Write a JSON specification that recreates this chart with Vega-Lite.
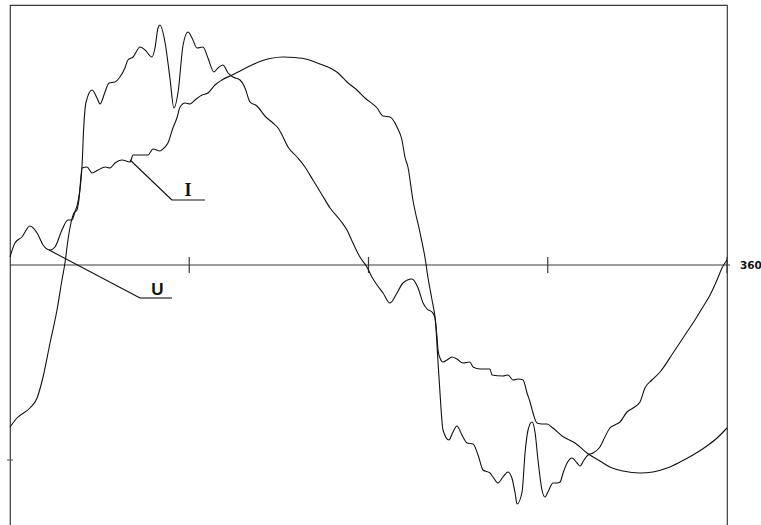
{
  "$schema": "https://vega.github.io/schema/vega-lite/v6.json",
  "width": 717,
  "height": 522,
  "autosize": {"type": "none"},
  "padding": {"left": 10, "top": 5, "right": 34, "bottom": 0},
  "background": "white",
  "config": {"view": {"stroke": "#3a3a3a", "strokeWidth": 1.2}},
  "datasets": {
    "curves": [
      {"series": "U", "x": 0, "y": 8}, {"series": "U", "x": 2.5, "y": 22}, {"series": "U", "x": 6.0, "y": 28}, {"series": "U", "x": 10.0, "y": 39}, {"series": "U", "x": 13.6, "y": 32}, {"series": "U", "x": 16.6, "y": 20}, {"series": "U", "x": 20.1, "y": 15}, {"series": "U", "x": 22.6, "y": 18}, {"series": "U", "x": 26.1, "y": 35}, {"series": "U", "x": 29.1, "y": 45}, {"series": "U", "x": 31.1, "y": 45}, {"series": "U", "x": 32.6, "y": 53}, {"series": "U", "x": 34.1, "y": 63}, {"series": "U", "x": 36.2, "y": 100}, {"series": "U", "x": 36.9, "y": 133}, {"series": "U", "x": 38.2, "y": 163}, {"series": "U", "x": 41.2, "y": 175}, {"series": "U", "x": 43.7, "y": 167}, {"series": "U", "x": 45.2, "y": 161}, {"series": "U", "x": 47.7, "y": 173}, {"series": "U", "x": 49.7, "y": 182}, {"series": "U", "x": 52.7, "y": 183}, {"series": "U", "x": 55.2, "y": 188}, {"series": "U", "x": 57.7, "y": 197}, {"series": "U", "x": 59.2, "y": 205}, {"series": "U", "x": 61.8, "y": 208}, {"series": "U", "x": 65.3, "y": 218}, {"series": "U", "x": 67.8, "y": 215}, {"series": "U", "x": 71.3, "y": 208}, {"series": "U", "x": 72.8, "y": 217}, {"series": "U", "x": 74.3, "y": 237}, {"series": "U", "x": 75.3, "y": 240}, {"series": "U", "x": 77.8, "y": 223}, {"series": "U", "x": 80.3, "y": 187}, {"series": "U", "x": 82.3, "y": 157}, {"series": "U", "x": 84.4, "y": 173}, {"series": "U", "x": 86.9, "y": 220}, {"series": "U", "x": 89.4, "y": 233}, {"series": "U", "x": 91.4, "y": 227}, {"series": "U", "x": 93.9, "y": 217}, {"series": "U", "x": 96.9, "y": 218}, {"series": "U", "x": 99.4, "y": 207}, {"series": "U", "x": 102.4, "y": 193}, {"series": "U", "x": 104.4, "y": 197}, {"series": "U", "x": 106.9, "y": 200}, {"series": "U", "x": 109.5, "y": 192}, {"series": "U", "x": 112.0, "y": 188}, {"series": "U", "x": 115.5, "y": 185}, {"series": "U", "x": 118.0, "y": 177}, {"series": "U", "x": 120.5, "y": 163}, {"series": "U", "x": 124.0, "y": 159}, {"series": "U", "x": 128.0, "y": 149}, {"series": "U", "x": 132.0, "y": 142}, {"series": "U", "x": 134.6, "y": 137}, {"series": "U", "x": 137.1, "y": 128}, {"series": "U", "x": 139.6, "y": 118}, {"series": "U", "x": 144.1, "y": 108}, {"series": "U", "x": 148.1, "y": 98}, {"series": "U", "x": 152.1, "y": 85}, {"series": "U", "x": 156.7, "y": 70}, {"series": "U", "x": 160.7, "y": 57}, {"series": "U", "x": 165.7, "y": 45}, {"series": "U", "x": 169.2, "y": 35}, {"series": "U", "x": 172.2, "y": 22}, {"series": "U", "x": 175.7, "y": 8}, {"series": "U", "x": 179.2, "y": -2}, {"series": "U", "x": 181.7, "y": -12}, {"series": "U", "x": 184.3, "y": -20}, {"series": "U", "x": 187.3, "y": -28}, {"series": "U", "x": 190.8, "y": -38}, {"series": "U", "x": 194.3, "y": -28}, {"series": "U", "x": 197.3, "y": -18}, {"series": "U", "x": 201.8, "y": -14}, {"series": "U", "x": 204.9, "y": -23}, {"series": "U", "x": 207.4, "y": -38}, {"series": "U", "x": 209.4, "y": -44}, {"series": "U", "x": 211.9, "y": -47}, {"series": "U", "x": 213.4, "y": -53}, {"series": "U", "x": 214.9, "y": -97}, {"series": "U", "x": 215.9, "y": -128}, {"series": "U", "x": 217.4, "y": -165}, {"series": "U", "x": 220.4, "y": -175}, {"series": "U", "x": 222.4, "y": -167}, {"series": "U", "x": 224.4, "y": -161}, {"series": "U", "x": 226.9, "y": -170}, {"series": "U", "x": 229.5, "y": -178}, {"series": "U", "x": 232.5, "y": -179}, {"series": "U", "x": 235.0, "y": -190}, {"series": "U", "x": 237.5, "y": -205}, {"series": "U", "x": 241.0, "y": -208}, {"series": "U", "x": 242.5, "y": -212}, {"series": "U", "x": 245.0, "y": -218}, {"series": "U", "x": 247.5, "y": -212}, {"series": "U", "x": 250.0, "y": -207}, {"series": "U", "x": 252.0, "y": -213}, {"series": "U", "x": 253.6, "y": -228}, {"series": "U", "x": 254.6, "y": -239}, {"series": "U", "x": 257.1, "y": -227}, {"series": "U", "x": 258.6, "y": -188}, {"series": "U", "x": 260.1, "y": -165}, {"series": "U", "x": 262.1, "y": -157}, {"series": "U", "x": 263.6, "y": -167}, {"series": "U", "x": 265.1, "y": -195}, {"series": "U", "x": 267.1, "y": -225}, {"series": "U", "x": 268.6, "y": -232}, {"series": "U", "x": 270.1, "y": -227}, {"series": "U", "x": 272.6, "y": -218}, {"series": "U", "x": 274.6, "y": -218}, {"series": "U", "x": 276.2, "y": -217}, {"series": "U", "x": 277.7, "y": -208}, {"series": "U", "x": 279.7, "y": -198}, {"series": "U", "x": 282.2, "y": -193}, {"series": "U", "x": 284.7, "y": -198}, {"series": "U", "x": 286.2, "y": -201}, {"series": "U", "x": 288.2, "y": -195}, {"series": "U", "x": 290.2, "y": -190}, {"series": "U", "x": 292.7, "y": -188}, {"series": "U", "x": 296.2, "y": -182}, {"series": "U", "x": 298.7, "y": -172}, {"series": "U", "x": 301.2, "y": -163}, {"series": "U", "x": 303.7, "y": -160}, {"series": "U", "x": 306.3, "y": -157}, {"series": "U", "x": 309.8, "y": -147}, {"series": "U", "x": 312.8, "y": -143}, {"series": "U", "x": 316.3, "y": -137}, {"series": "U", "x": 318.8, "y": -123}, {"series": "U", "x": 322.3, "y": -115}, {"series": "U", "x": 326.4, "y": -107}, {"series": "U", "x": 332.9, "y": -88}, {"series": "U", "x": 338.9, "y": -70}, {"series": "U", "x": 343.9, "y": -55}, {"series": "U", "x": 347.9, "y": -42}, {"series": "U", "x": 351.5, "y": -30}, {"series": "U", "x": 355.0, "y": -15}, {"series": "U", "x": 357.5, "y": -3}, {"series": "U", "x": 360, "y": 5},
      {"series": "I", "x": 0, "y": -162}, {"series": "I", "x": 3.5, "y": -153}, {"series": "I", "x": 10.0, "y": -143}, {"series": "I", "x": 13.6, "y": -133}, {"series": "I", "x": 16.6, "y": -112}, {"series": "I", "x": 20.1, "y": -78}, {"series": "I", "x": 23.6, "y": -45}, {"series": "I", "x": 26.1, "y": -15}, {"series": "I", "x": 27.6, "y": 2}, {"series": "I", "x": 29.1, "y": 25}, {"series": "I", "x": 30.6, "y": 42}, {"series": "I", "x": 32.1, "y": 52}, {"series": "I", "x": 33.6, "y": 55}, {"series": "I", "x": 34.6, "y": 65}, {"series": "I", "x": 36.2, "y": 97}, {"series": "I", "x": 38.7, "y": 98}, {"series": "I", "x": 41.2, "y": 92}, {"series": "I", "x": 44.2, "y": 95}, {"series": "I", "x": 47.7, "y": 98}, {"series": "I", "x": 50.2, "y": 97}, {"series": "I", "x": 52.7, "y": 102}, {"series": "I", "x": 56.2, "y": 105}, {"series": "I", "x": 60.3, "y": 103}, {"series": "I", "x": 61.8, "y": 110}, {"series": "I", "x": 65.3, "y": 110}, {"series": "I", "x": 69.3, "y": 110}, {"series": "I", "x": 71.8, "y": 116}, {"series": "I", "x": 75.3, "y": 114}, {"series": "I", "x": 77.3, "y": 117}, {"series": "I", "x": 79.3, "y": 122}, {"series": "I", "x": 81.8, "y": 137}, {"series": "I", "x": 83.8, "y": 147}, {"series": "I", "x": 85.4, "y": 158}, {"series": "I", "x": 87.9, "y": 162}, {"series": "I", "x": 90.4, "y": 161}, {"series": "I", "x": 92.9, "y": 165}, {"series": "I", "x": 96.4, "y": 170}, {"series": "I", "x": 99.4, "y": 172}, {"series": "I", "x": 102.9, "y": 180}, {"series": "I", "x": 106.4, "y": 185}, {"series": "I", "x": 111.5, "y": 190}, {"series": "I", "x": 116.5, "y": 195}, {"series": "I", "x": 121.5, "y": 200}, {"series": "I", "x": 125.5, "y": 203.5}, {"series": "I", "x": 130.5, "y": 206.5}, {"series": "I", "x": 137.1, "y": 208}, {"series": "I", "x": 143.0, "y": 207.5}, {"series": "I", "x": 149.6, "y": 205.5}, {"series": "I", "x": 155.6, "y": 201}, {"series": "I", "x": 161.7, "y": 196}, {"series": "I", "x": 164.7, "y": 192}, {"series": "I", "x": 169.2, "y": 183}, {"series": "I", "x": 174.2, "y": 175}, {"series": "I", "x": 178.2, "y": 167}, {"series": "I", "x": 184.3, "y": 157}, {"series": "I", "x": 187.3, "y": 149}, {"series": "I", "x": 190.8, "y": 148}, {"series": "I", "x": 194.3, "y": 138}, {"series": "I", "x": 196.8, "y": 125}, {"series": "I", "x": 198.3, "y": 108}, {"series": "I", "x": 199.8, "y": 98}, {"series": "I", "x": 202.3, "y": 65}, {"series": "I", "x": 205.9, "y": 32}, {"series": "I", "x": 208.4, "y": 7}, {"series": "I", "x": 209.9, "y": -13}, {"series": "I", "x": 211.9, "y": -35}, {"series": "I", "x": 213.4, "y": -52}, {"series": "I", "x": 214.4, "y": -72}, {"series": "I", "x": 214.9, "y": -85}, {"series": "I", "x": 215.9, "y": -93}, {"series": "I", "x": 217.4, "y": -97}, {"series": "I", "x": 219.4, "y": -95}, {"series": "I", "x": 221.9, "y": -92}, {"series": "I", "x": 224.4, "y": -94}, {"series": "I", "x": 227.4, "y": -98}, {"series": "I", "x": 230.9, "y": -97}, {"series": "I", "x": 232.5, "y": -102}, {"series": "I", "x": 236.0, "y": -104}, {"series": "I", "x": 241.0, "y": -104}, {"series": "I", "x": 242.0, "y": -110}, {"series": "I", "x": 247.5, "y": -111}, {"series": "I", "x": 250.0, "y": -110}, {"series": "I", "x": 252.6, "y": -115}, {"series": "I", "x": 255.1, "y": -114}, {"series": "I", "x": 257.6, "y": -115}, {"series": "I", "x": 259.6, "y": -128}, {"series": "I", "x": 261.1, "y": -137}, {"series": "I", "x": 262.6, "y": -148}, {"series": "I", "x": 264.6, "y": -158}, {"series": "I", "x": 267.1, "y": -159}, {"series": "I", "x": 269.6, "y": -159}, {"series": "I", "x": 272.6, "y": -163}, {"series": "I", "x": 277.2, "y": -171}, {"series": "I", "x": 283.7, "y": -178}, {"series": "I", "x": 289.7, "y": -188}, {"series": "I", "x": 296.2, "y": -196}, {"series": "I", "x": 301.2, "y": -202}, {"series": "I", "x": 307.8, "y": -206}, {"series": "I", "x": 316.3, "y": -208}, {"series": "I", "x": 322.8, "y": -207}, {"series": "I", "x": 329.9, "y": -203}, {"series": "I", "x": 336.4, "y": -197}, {"series": "I", "x": 342.9, "y": -190}, {"series": "I", "x": 349.9, "y": -181}, {"series": "I", "x": 355.0, "y": -173}, {"series": "I", "x": 360, "y": -163}
    ],
    "ticks": [{"x": 90}, {"x": 180}, {"x": 270}, {"x": 360}],
    "leaders": [
      {"series": "I", "x": 60.3, "y": 105, "x2": 81.3, "y2": 65},
      {"series": "I", "x": 81.3, "y": 65, "x2": 97.9, "y2": 65},
      {"series": "U", "x": 19.6, "y": 15, "x2": 65.3, "y2": -33},
      {"series": "U", "x": 65.3, "y": -33, "x2": 81.3, "y2": -33}
    ],
    "labels": [
      {"label": "I", "x": 89.4, "y": 69},
      {"label": "U", "x": 74.0, "y": -30}
    ],
    "axisLabel": [{"label": "360", "x": 360, "y": 0}]
  },
  "layer": [
    {
      "data": {"values": [{}]},
      "mark": {"type": "rule", "color": "#3a3a3a", "strokeWidth": 1.2},
      "encoding": {
        "x": {"datum": 0, "type": "quantitative", "scale": {"domain": [0, 360], "nice": false, "zero": false}, "axis": null},
        "x2": {"datum": 361.5},
        "y": {"datum": 0, "type": "quantitative", "scale": {"domain": [-262, 260], "nice": false, "zero": false}, "axis": null}
      }
    },
    {
      "data": {"values": [{}]},
      "mark": {"type": "rule", "color": "#555", "strokeWidth": 1},
      "encoding": {
        "x": {"datum": -1.5, "type": "quantitative"},
        "x2": {"datum": 1.5},
        "y": {"datum": -195, "type": "quantitative"}
      }
    },
    {
      "data": {"name": "ticks"},
      "mark": {"type": "rule", "color": "#3a3a3a", "strokeWidth": 1.2},
      "encoding": {
        "x": {"field": "x", "type": "quantitative"},
        "y": {"datum": 8, "type": "quantitative"},
        "y2": {"datum": -8}
      }
    },
    {
      "data": {"name": "curves"},
      "mark": {"type": "line", "color": "#111", "strokeWidth": 1.1, "interpolate": "monotone"},
      "encoding": {
        "x": {"field": "x", "type": "quantitative"},
        "y": {"field": "y", "type": "quantitative"},
        "detail": {"field": "series"}
      }
    },
    {
      "data": {"name": "leaders"},
      "mark": {"type": "rule", "color": "#111", "strokeWidth": 1.1},
      "encoding": {
        "x": {"field": "x", "type": "quantitative"},
        "x2": {"field": "x2"},
        "y": {"field": "y", "type": "quantitative"},
        "y2": {"field": "y2"}
      }
    },
    {
      "data": {"name": "labels"},
      "transform": [{"filter": "datum.label === 'I'"}],
      "mark": {"type": "text", "font": "Liberation Serif", "fontWeight": "bold", "fontSize": 18, "align": "center", "baseline": "alphabetic", "color": "#111"},
      "encoding": {
        "x": {"field": "x", "type": "quantitative"},
        "y": {"field": "y", "type": "quantitative"},
        "text": {"field": "label"}
      }
    },
    {
      "data": {"name": "labels"},
      "transform": [{"filter": "datum.label === 'U'"}],
      "mark": {"type": "text", "font": "Liberation Sans", "fontWeight": "bold", "fontSize": 17, "align": "center", "baseline": "alphabetic", "color": "#111"},
      "encoding": {
        "x": {"field": "x", "type": "quantitative"},
        "y": {"field": "y", "type": "quantitative"},
        "text": {"field": "label"}
      }
    },
    {
      "data": {"name": "axisLabel"},
      "mark": {"type": "text", "font": "DejaVu Sans", "fontWeight": "bold", "fontSize": 10.5, "align": "left", "baseline": "middle", "dx": 13, "dy": 1, "color": "#111"},
      "encoding": {
        "x": {"field": "x", "type": "quantitative"},
        "y": {"field": "y", "type": "quantitative"},
        "text": {"field": "label"}
      }
    }
  ]
}
